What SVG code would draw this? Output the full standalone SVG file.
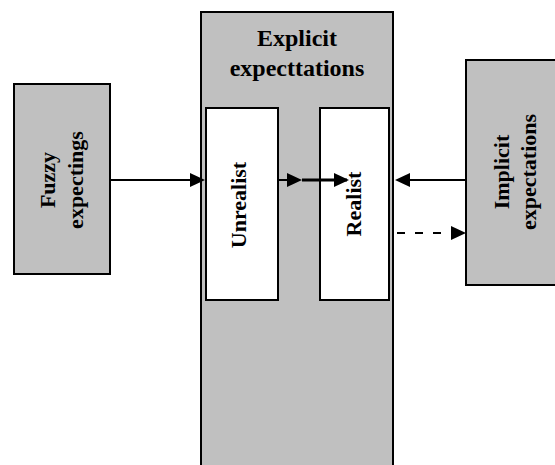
<svg xmlns="http://www.w3.org/2000/svg" width="555" height="465" viewBox="0 0 555 465">
<style>
.box{fill:#c0c0c0;stroke:#000;stroke-width:2}
.inner{fill:#fff;stroke:#000;stroke-width:2}
.t{font-family:"Liberation Serif","Times New Roman",serif;font-weight:bold;font-size:22px;fill:#000;text-anchor:middle}
.c{stroke:#000;stroke-width:2;fill:none}
</style>
<defs>
<marker id="ah" viewBox="0 0 15 14" refX="13" refY="7" markerWidth="15" markerHeight="14" markerUnits="userSpaceOnUse" orient="auto">
<path d="M0,0 L15,7 L0,14 z" fill="#000"/>
</marker>
</defs>
<rect x="-10" y="-10" width="580" height="490" fill="#fff"/>
<g id="explicit">
<rect class="box" x="201" y="12" width="192" height="470"/>
<text class="t" x="297" y="46" style="font-size:24px">Explicit</text>
<text class="t" x="297" y="76" style="font-size:24px">expecttations</text>
</g>
<g id="fuzzy">
<rect class="box" x="14" y="84" width="96" height="190"/>
<g transform="translate(62,180) rotate(-90)">
<text class="t" x="0" y="-7">Fuzzy</text>
<text class="t" x="0" y="21">expectings</text>
</g>
</g>
<g id="unrealist">
<rect class="inner" x="206" y="108" width="72" height="192"/>
<text class="t" transform="translate(246,205) rotate(-90)" x="0" y="0">Unrealist</text>
</g>
<g id="realist">
<rect class="inner" x="320" y="108" width="69" height="192"/>
<text class="t" transform="translate(361,204) rotate(-90)" x="0" y="0">Realist</text>
</g>
<g id="implicit">
<rect class="box" x="466" y="60" width="110" height="225"/>
<g transform="translate(516,172) rotate(-90)">
<text class="t" x="0" y="-7">Implicit</text>
<text class="t" x="0" y="20">expectations</text>
</g>
</g>
<g id="connectors">
<path class="c" d="M110,180 H203" marker-end="url(#ah)"/>
<path class="c" d="M278,180 H300" marker-end="url(#ah)"/>
<path class="c" d="M302,180 H347" style="stroke-width:3" marker-end="url(#ah)"/>
<path class="c" d="M466,180 H397" marker-end="url(#ah)"/>
<path class="c" d="M397,233 H464" style="stroke-dasharray:8,10" marker-end="url(#ah)"/>
</g>
</svg>
